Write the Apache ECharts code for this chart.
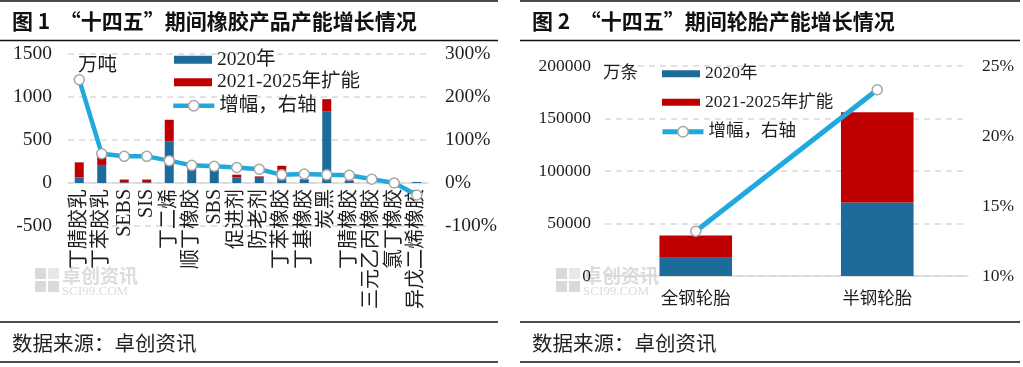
<!DOCTYPE html>
<html>
<head>
<meta charset="utf-8">
<script src="https://cdn.jsdelivr.net/npm/echarts@6/dist/echarts.min.js"></script>
<style>
html,body{margin:0;padding:0;background:#fff;}
#c{width:1023px;height:367px;}
</style>
</head>
<body>
<div id="c"></div>
<script>
// ---- Figure 1 data ----
const rubberCats = ['丁腈胶乳','丁苯胶乳','SEBS','SIS','丁二烯','顺丁橡胶','SBS','促进剂','防老剂','丁苯橡胶','丁基橡胶','炭黑','丁腈橡胶','三元乙丙橡胶','氯丁橡胶','异戊二烯橡胶'];
const rubber2020 = [65, 210, 8, 8, 485, 160, 150, 65, 60, 163, 35, 830, 25, 35, 10, 12];
const rubberAdd = [175, 140, 32, 32, 250, 45, 60, 32, 17, 37, 8, 145, 6, 3, 0, 0];
const rubberGrowth = [240, 68, 62, 62, 52, 41, 39, 36, 32, 19, 21, 19, 18, 9, 0, -28];
const rubberLeftTicks = [-500, 1500, 500];   // min, max, interval
const rubberRightTicks = [-100, 300, 100];

// ---- Figure 2 data ----
const tireCats = ['全钢轮胎','半钢轮胎'];
const tire2020 = [17500, 70000];
const tireAdd = [21000, 86000];
const tireGrowth = [13.2, 23.3];
const tireLeftTicks = [0, 200000, 50000];
const tireRightTicks = [10, 25, 5];

const seriesNames = ['2020年', '2021-2025年扩能', '增幅，右轴'];
const titles = ['图 1  “十四五”期间橡胶产品产能增长情况', '图 2  “十四五”期间轮胎产能增长情况'];
const sourceText = '数据来源：卓创资讯';

const FONT = "'Liberation Serif','Noto Sans CJK SC',serif";
const CJK = "'Noto Sans CJK SC','Liberation Serif',sans-serif";
const BLUE = '#1D6B9A', RED = '#C00000', CYAN = '#1FA9DD';
const GRID = '#D9D9D9', TXT = '#1e1e1e';

const chart = echarts.init(document.getElementById('c'), null, {renderer:'canvas'});

function panelLines(x0, x1){
  const ys = [1, 40.5, 322, 362];
  return ys.map(y => ({type:'line', shape:{x1:x0, y1:y, x2:x1, y2:y}, style:{stroke:'#111', lineWidth:1.3}, silent:true}));
}
function watermark(x, y){
  return {type:'group', x:x, y:y, silent:true, z:0, children:[
    {type:'rect', shape:{x:0,y:0,width:11,height:11}, style:{fill:'#DADADA'}},
    {type:'rect', shape:{x:13,y:0,width:11,height:11}, style:{fill:'#E8E8E8'}},
    {type:'rect', shape:{x:0,y:13,width:11,height:11}, style:{fill:'#DADADA'}},
    {type:'rect', shape:{x:13,y:13,width:11,height:11}, style:{fill:'#DADADA'}},
    {type:'text', x:27, y:-2, style:{text:'卓创资讯', font:"bold 19px 'Noto Sans CJK SC'", fill:'#DCDCDC'}},
    {type:'text', x:27, y:17, style:{text:'SCI99.COM', font:"13px 'Liberation Serif'", fill:'#DCDCDC'}}
  ]};
}
function txt(x, y, s, font, fill){
  return {type:'text', x:x, y:y, silent:true, z:10,
    style:{text:s, font:font, fill:fill||TXT, textVerticalAlign:'middle'}};
}
const plain = v => String(v);
const barLegend = (left, top, size, gap, h) => ({
  orient:'vertical', left:left, top:top, itemWidth:38, itemHeight:h, itemGap:gap, selectedMode:false,
  textStyle:{fontSize:size, lineHeight:size, color:TXT, fontFamily:FONT},
  data:[{name:seriesNames[0], icon:'rect'},{name:seriesNames[1], icon:'rect'}]
});
const lineLegend = (left, top, size, w) => ({
  orient:'vertical', left:left, top:top, itemWidth:41, itemHeight:13, selectedMode:false,
  textStyle:{fontSize:size, lineHeight:size, color:TXT, fontFamily:FONT},
  lineStyle:{width:w, color:CYAN},
  data:[{name:seriesNames[2], lineStyle:{width:w, color:CYAN}, itemStyle:{color:'#fff', borderColor:'#A6A6A6', borderWidth:1.5}}]
});

const option = {
  animation:false,
  textStyle:{fontFamily:FONT},
  grid:[
    {left:68, top:54, width:360, height:172},
    {left:605, top:66, width:363, height:210}
  ],
  legend:[
    barLegend(169, 45, 19.5, 3, 8),
    lineLegend(166, 91, 19.5, 4.5),
    barLegend(657, 60, 17.5, 11, 7),
    lineLegend(655, 118, 17.5, 5)
  ],
  xAxis:[
    {type:'category', gridIndex:0, data:rubberCats,
     axisLine:{lineStyle:{color:GRID, width:1.5}}, axisTick:{show:false},
     axisLabel:{rotate:90, interval:0, fontSize:20, margin:-37, color:TXT, fontFamily:FONT}},
    {type:'category', gridIndex:1, data:tireCats,
     axisLine:{lineStyle:{color:GRID, width:1.5}}, axisTick:{show:false},
     axisLabel:{interval:0, fontSize:17.5, margin:15, color:TXT, fontFamily:FONT}}
  ],
  yAxis:[
    {type:'value', gridIndex:0, min:rubberLeftTicks[0], max:rubberLeftTicks[1], interval:rubberLeftTicks[2],
     axisLine:{show:false}, axisTick:{show:false},
     splitLine:{lineStyle:{color:GRID, type:[6,5], width:1.5}},
     axisLabel:{fontSize:19.5, margin:16, color:TXT, fontFamily:FONT, formatter:plain}},
    {type:'value', gridIndex:0, position:'right', min:rubberRightTicks[0], max:rubberRightTicks[1], interval:rubberRightTicks[2],
     axisLine:{show:false}, axisTick:{show:false}, splitLine:{show:false},
     axisLabel:{fontSize:19.5, margin:17, color:TXT, fontFamily:FONT, formatter:'{value}%'}},
    {type:'value', gridIndex:1, min:tireLeftTicks[0], max:tireLeftTicks[1], interval:tireLeftTicks[2],
     axisLine:{show:false}, axisTick:{show:false},
     splitLine:{lineStyle:{color:GRID, type:[6,5], width:1.5}},
     axisLabel:{fontSize:17.5, margin:14, color:TXT, fontFamily:FONT, formatter:plain}},
    {type:'value', gridIndex:1, position:'right', min:tireRightTicks[0], max:tireRightTicks[1], interval:tireRightTicks[2],
     axisLine:{show:false}, axisTick:{show:false}, splitLine:{show:false},
     axisLabel:{fontSize:17.5, margin:14, color:TXT, fontFamily:FONT, formatter:'{value}%'}}
  ],
  series:[
    {type:'bar', name:seriesNames[0], stack:'r', xAxisIndex:0, yAxisIndex:0, data:rubber2020, barWidth:'40%', itemStyle:{color:BLUE}},
    {type:'bar', name:seriesNames[1], stack:'r', xAxisIndex:0, yAxisIndex:0, data:rubberAdd, barWidth:'40%', itemStyle:{color:RED}},
    {type:'line', name:seriesNames[2], xAxisIndex:0, yAxisIndex:1, data:rubberGrowth, z:5,
     lineStyle:{color:CYAN, width:4.5}, symbol:'circle', symbolSize:10,
     itemStyle:{color:'#fff', borderColor:'#A6A6A6', borderWidth:1.5}},
    {type:'bar', name:seriesNames[0], stack:'t', xAxisIndex:1, yAxisIndex:2, data:tire2020, barWidth:'40%', itemStyle:{color:BLUE}},
    {type:'bar', name:seriesNames[1], stack:'t', xAxisIndex:1, yAxisIndex:2, data:tireAdd, barWidth:'40%', itemStyle:{color:RED}},
    {type:'line', name:seriesNames[2], xAxisIndex:1, yAxisIndex:3, data:tireGrowth, z:5,
     lineStyle:{color:CYAN, width:5}, symbol:'circle', symbolSize:10,
     itemStyle:{color:'#fff', borderColor:'#A6A6A6', borderWidth:1.5}}
  ],
  graphic:[].concat(
    panelLines(0, 498), panelLines(520, 1020),
    [
      watermark(35, 268), watermark(556, 268),
      txt(12, 21, titles[0], "bold 21px "+CJK, '#111'),
      txt(532, 21, titles[1], "bold 21px "+CJK, '#111'),
      txt(12, 343, sourceText, "20.5px "+CJK, '#222'),
      txt(532, 343, sourceText, "20.5px "+CJK, '#222'),
      txt(78, 66, '万吨', "19.5px "+FONT),
      txt(603, 73, '万条', "17.5px "+FONT)
    ]
  )
};
chart.setOption(option);
</script>
</body>
</html>
